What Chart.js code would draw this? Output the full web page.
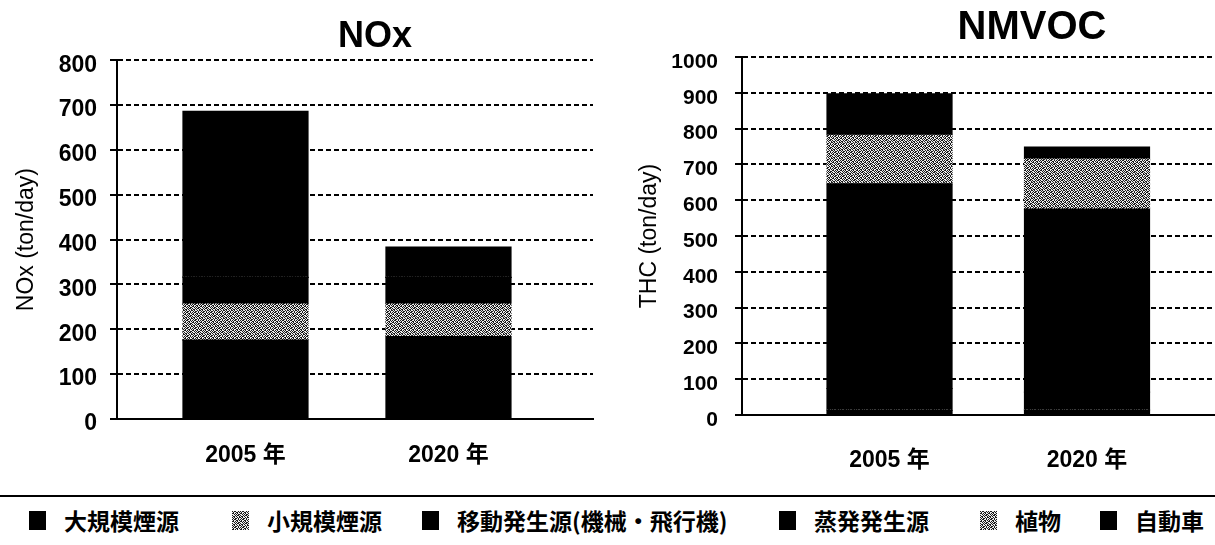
<!DOCTYPE html>
<html><head><meta charset="utf-8">
<script src="https://cdn.jsdelivr.net/npm/chart.js@4/dist/chart.umd.min.js"></script>
<style>
html,body{margin:0;padding:0;background:#fff;overflow:hidden;width:1215px;height:545px;}
#wrap{position:relative;width:1215px;height:545px;overflow:hidden;background:#fff;}
#c1{position:absolute;left:0;top:0;}
#c2{position:absolute;left:600px;top:0;}
#sep{position:absolute;left:0;top:495px;width:1215px;height:2px;background:#000;}
#legend{position:absolute;left:0;top:503px;width:1215px;height:34px;}
.li{position:absolute;top:0;height:34px;display:flex;align-items:center;font-family:"Noto Sans CJK JP",sans-serif;font-weight:bold;font-size:23px;color:#000;white-space:nowrap;}
.sw{width:17px;height:19px;margin-right:18px;flex:none;}
</style>
</head><body><div id="wrap">
<canvas id="c1" width="750" height="490" style="width:750px;height:490px"></canvas>
<canvas id="c2" width="864" height="490" style="width:864px;height:490px"></canvas>
<div id="sep"></div>
<div id="legend"></div>
</div>
<script>
// ---- data ----
const categories = ['2005 年', '2020 年'];
const seriesNames = ['大規模煙源', '小規模煙源', '移動発生源(機械・飛行機)', '蒸発発生源', '植物', '自動車'];
// NOx (ton/day)
const noxLarge  = [176, 184];
const noxSmall  = [80, 72];
const noxMobile = [60, 60];
const noxEvap   = [0, 0];
const noxPlant  = [0, 0];
const noxCar    = [370, 67];
// NMVOC / THC (ton/day)
const vocLarge  = [14, 14];
const vocSmall  = [0, 0];
const vocMobile = [60, 50];
const vocEvap   = [572, 511];
const vocPlant  = [135, 140];
const vocCar    = [116, 33];
const noxTicksMax = 800;
const vocTicksMax = 1000;

// ---- styles ----
const NUM = '"Liberation Sans", "Noto Sans CJK JP", sans-serif';
const stipple = [
  "10110010",
  "01001101",
  "11010100",
  "00101011",
  "10010110",
  "01101001",
  "10100101",
  "01011010"
];
const pc = document.createElement('canvas');
pc.width = 8; pc.height = 8;
const pctx = pc.getContext('2d');
stipple.forEach((row, yy) => {
  [...row].forEach((b, xx) => {
    pctx.fillStyle = b === '1' ? '#1a1a1a' : '#ececec';
    pctx.fillRect(xx, yy, 1, 1);
  });
});
const grayPattern = pctx.createPattern(pc, 'repeat');
const seriesFill = ['#000', grayPattern, '#000', '#000', grayPattern, '#000'];
const swatchUrl = 'url(' + pc.toDataURL() + ')';
const seriesSwatch = ['#000', swatchUrl, '#000', '#000', swatchUrl, '#000'];

function makeDatasets(arrays) {
  return arrays.map((arr, k) => ({
    label: seriesNames[k],
    data: categories.map((c, i) => ({ x: i + 1, y: arr[i] })),
    backgroundColor: seriesFill[k],
    borderWidth: 0,
    inflateAmount: 0.6,
    barThickness: 125
  }));
}

function makeChart(id, opt) {
  return new Chart(document.getElementById(id), {
    type: 'bar',
    data: { datasets: makeDatasets(opt.arrays) },
    options: {
      responsive: false,
      animation: false,
      devicePixelRatio: 1,
      layout: { padding: 0 },
      plugins: {
        legend: { display: false },
        tooltip: { enabled: false },
        title: {
          display: true, text: opt.title, color: '#000',
          font: { family: NUM, size: opt.titleSize, weight: 'bold' },
          padding: opt.titlePad
        }
      },
      scales: {
        x: {
          type: 'linear', min: opt.xMin, max: opt.xMax, stacked: true, offset: false,
          grid: { display: false, drawTicks: false },
          border: { display: true, color: '#000', width: 2 },
          afterBuildTicks: s => { s.ticks = categories.map((c, i) => ({ value: i + 1 })); },
          ticks: {
            callback: v => categories[v - 1] || '',
            color: '#000', autoSkip: false, maxRotation: 0,
            font: { family: NUM, size: 23, weight: 'bold' },
            padding: opt.xPad
          },
          afterFit: s => { s.height = opt.xHeight; }
        },
        y: {
          min: 0, max: opt.yMax, stacked: true,
          ticks: {
            stepSize: 100, color: '#000',
            callback: v => String(v),
            font: { family: NUM, size: opt.yTickSize, weight: 'bold' },
            padding: opt.yTickPad, labelOffset: 5
          },
          grid: { color: '#000', lineWidth: 2, tickLength: 7, tickColor: '#000', tickWidth: 2 },
          border: { display: true, color: '#000', width: 2, dash: [5, 3] },
          title: {
            display: true, text: opt.yTitle, color: '#000',
            font: { family: NUM, size: 23 },
            padding: { top: opt.yTitlePad, bottom: 0 }
          },
          afterFit: s => { s.width = opt.yWidth; }
        },
        ...(opt.rightGap ? {
          yr: {
            position: 'right', display: true,
            grid: { display: false, drawTicks: false },
            border: { display: false },
            ticks: { display: false },
            afterFit: s => { s.width = opt.rightGap; }
          }
        } : {})
      }
    }
  });
}

const noxChart = makeChart('c1', {
  arrays: [noxLarge, noxSmall, noxMobile, noxEvap, noxPlant, noxCar],
  title: 'NOx', titleSize: 36, titlePad: { top: 15, bottom: 2 },
  xMin: 0.367, xMax: 2.712, xPad: 23, xHeight: 71,
  yMax: noxTicksMax, yTickSize: 23, yTickPad: 13, yWidth: 117,
  yTitle: 'NOx (ton/day)', yTitlePad: 13, rightGap: 157
});

const vocChart = makeChart('c2', {
  arrays: [vocLarge, vocSmall, vocMobile, vocEvap, vocPlant, vocCar],
  title: 'NMVOC', titleSize: 40, titlePad: { top: 4, bottom: 5 },
  xMin: 0.253, xMax: 3.909, xPad: 32, xHeight: 75,
  yMax: vocTicksMax, yTickSize: 21, yTickPad: 17, yWidth: 142,
  yTitle: 'THC (ton/day)', yTitlePad: 36, rightGap: 0
});

// ---- legend (built from the chart's datasets) ----
const legendX = [29, 232, 422, 779, 980, 1100];
const lg = document.getElementById('legend');
noxChart.data.datasets.forEach((ds, k) => {
  const item = document.createElement('div');
  item.className = 'li';
  item.style.left = legendX[k] + 'px';
  const sw = document.createElement('span');
  sw.className = 'sw';
  sw.style.background = seriesSwatch[k];
  item.appendChild(sw);
  const t = document.createElement('span');
  t.textContent = ds.label;
  item.appendChild(t);
  lg.appendChild(item);
});
</script>
</body></html>
